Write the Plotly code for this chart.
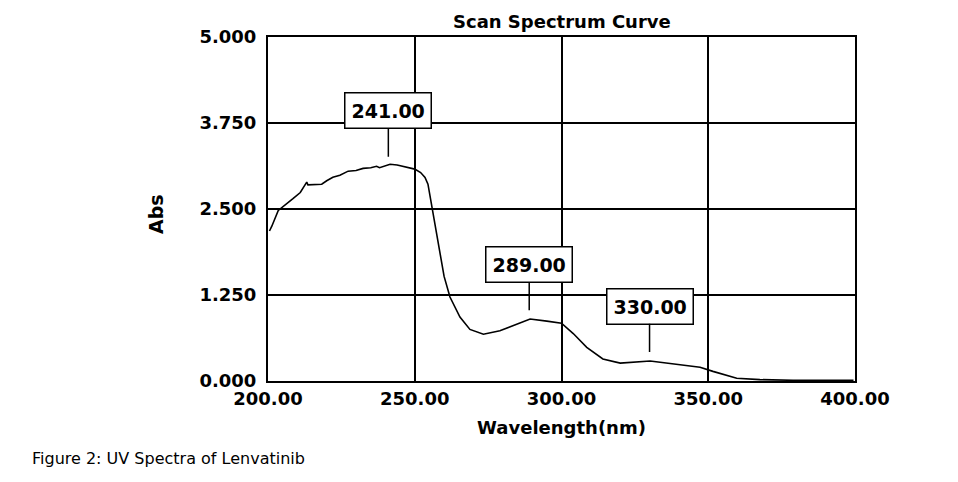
import plotly.graph_objects as go

wavelength = [200.5, 201.3, 203.5, 206.0, 208.5, 211.0, 213.2, 213.6, 216.0, 218.3, 220.0, 222.1,
              224.5, 227.3, 230.0, 232.4, 235.0, 237.0, 238.0, 241.6, 244.0, 246.0, 248.0, 250.0,
              252.0, 253.5, 254.5, 256.2, 258.6, 260.0, 262.0, 265.4, 268.8, 273.4, 279.0, 284.7,
              289.3, 295.0, 300.0, 304.0, 308.6, 314.1, 320.0, 330.2, 339.3, 347.2, 351.6, 356.3,
              359.7, 367.6, 378.9, 399.5]
absorbance = [2.18, 2.25, 2.48, 2.56, 2.65, 2.74, 2.89, 2.85, 2.86, 2.86, 2.91, 2.96,
              2.99, 3.05, 3.06, 3.09, 3.10, 3.12, 3.10, 3.15, 3.14, 3.12, 3.11, 3.08,
              3.03, 2.96, 2.86, 2.44, 1.81, 1.52, 1.22, 0.93, 0.75, 0.68, 0.73, 0.83,
              0.90, 0.87, 0.84, 0.69, 0.49, 0.32, 0.26, 0.29, 0.245, 0.20, 0.14, 0.08,
              0.04, 0.02, 0.01, 0.01]

peak_labels = ["241.00", "289.00", "330.00"]
peak_x = [241.0, 289.0, 330.0]
peak_tip_y = [3.26, 1.03, 0.42]

x_ticks = [200, 250, 300, 350, 400]
x_tick_text = ["200.00", "250.00", "300.00", "350.00", "400.00"]
y_ticks = [0, 1.25, 2.5, 3.75, 5.0]
y_tick_text = ["0.000", "1.250", "2.500", "3.750", "5.000"]

BOLD = "DejaVu Sans, Verdana, sans-serif"

fig = go.Figure()
fig.add_trace(go.Scatter(x=wavelength, y=absorbance, mode="lines",
                         line=dict(color="black", width=1.6), showlegend=False,
                         hoverinfo="skip"))

for lab, px, py in zip(peak_labels, peak_x, peak_tip_y):
    fig.add_annotation(x=px, y=py, xref="x", yref="y", text="<b>" + lab + "</b>",
                       showarrow=True, arrowhead=0, arrowwidth=1.5, arrowcolor="black",
                       ax=0, ay=-46, bgcolor="white", bordercolor="black", borderwidth=1.5,
                       borderpad=6, font=dict(family=BOLD, size=19, color="black"))

fig.add_annotation(x=-0.405, y=-0.224, xref="paper", yref="paper", xanchor="left", yanchor="middle",
                   text="Figure 2: UV Spectra of Lenvatinib", showarrow=False,
                   font=dict(family="DejaVu Sans, sans-serif", size=16, color="black"))
fig.add_annotation(x=-0.191, y=0.485, xref="paper", yref="paper", xanchor="center",
                   text="<b>Abs</b>", textangle=-90, showarrow=False,
                   font=dict(family=BOLD, size=19, color="black"))
fig.add_annotation(x=0.5, y=1.0, xref="paper", yref="paper", xanchor="center", yanchor="bottom",
                   yshift=3, text="<b>Scan Spectrum Curve</b>", showarrow=False,
                   font=dict(family=BOLD, size=18, color="black"))

fig.update_layout(
    width=958, height=482,
    margin=dict(l=260, r=111, t=29, b=109, autoexpand=False),
    paper_bgcolor="white", plot_bgcolor="white",
    xaxis=dict(range=[200, 400], tickvals=x_ticks,
               ticktext=["<b>" + t + "</b>" for t in x_tick_text],
               showgrid=True, gridcolor="black", gridwidth=1.5,
               showline=True, linecolor="black", linewidth=2, mirror=True,
               ticks="", zeroline=False, ticklabelstandoff=0,
               tickfont=dict(family=BOLD, size=18, color="black"),
               title=dict(text="<b>Wavelength(nm)</b>", standoff=14,
                          font=dict(family=BOLD, size=18, color="black"))),
    yaxis=dict(range=[0, 5], tickvals=y_ticks,
               ticktext=["<b>" + t + "</b>" for t in y_tick_text],
               showgrid=True, gridcolor="black", gridwidth=1.5,
               showline=True, linecolor="black", linewidth=2, mirror=True,
               ticks="", zeroline=False, ticklabelstandoff=6,
               tickfont=dict(family=BOLD, size=18, color="black")),
)

fig.write_html("out.html")
